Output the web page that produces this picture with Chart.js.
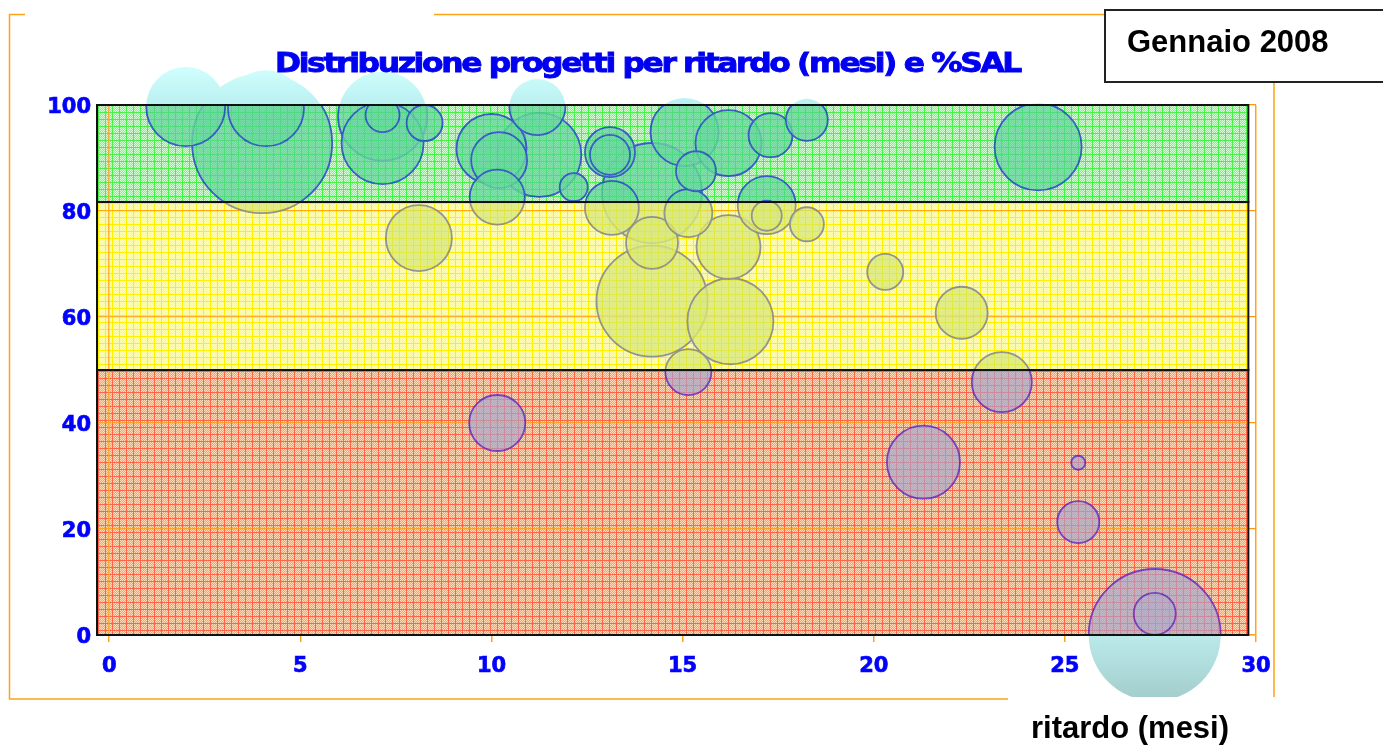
<!DOCTYPE html>
<html>
<head>
<meta charset="utf-8">
<title>Distribuzione progetti per ritardo (mesi) e %SAL</title>
<script src="https://cdn.jsdelivr.net/npm/chart.js@4/dist/chart.umd.min.js"></script>
<style>
  html, body { margin: 0; padding: 0; background: #fff; }
  canvas { display: block; }
</style>
</head>
<body>
<canvas id="myChart" width="1383" height="745"></canvas>
<script>
// ritardo (mesi) e % SAL di ogni progetto, raggio della bolla in px
const ritardo = [2.0, 4.1, 4.0, 7.15, 7.15, 7.15, 8.25, 8.1, 10.0, 10.2, 10.15, 11.2, 11.25, 12.15,
                 13.1, 13.1, 13.15, 14.2, 15.05, 15.35, 15.15, 16.2, 17.3, 18.25, 17.2, 17.2, 18.25,
                 14.2, 16.2, 14.2, 16.25, 15.15, 10.15, 20.3, 22.3, 23.35, 21.3, 25.35, 25.35, 27.35,
                 27.35, 24.3];
const sal = [99.7, 99.4, 92.8, 97.9, 92.8, 98.1, 96.6, 74.9, 91.7, 89.6, 82.6, 99.6, 90.6, 84.5,
             91.1, 90.6, 80.6, 83.4, 94.9, 87.5, 79.6, 92.8, 94.3, 97.2, 81.1, 79.1, 77.5,
             74.0, 73.2, 63.0, 59.2, 49.6, 40.0, 68.5, 60.8, 47.7, 32.6, 32.5, 21.3, 0,
             4.0, 92.1];
const bubbleRadius = [39.5, 38, 70, 44.5, 41, 17, 18, 33, 35, 28, 27.5, 28, 42, 14,
                      25, 20, 27, 50, 34, 20, 24, 33, 22, 21, 29, 15, 17,
                      26, 32, 55.5, 43, 23, 28, 18, 26, 30, 36.5, 7, 21, 66,
                      21, 43.5];

const xTicks = [0, 5, 10, 15, 20, 25, 30];
const yTicks = [0, 20, 40, 60, 80, 100];
const bandLimits = [0, 50, 81.7, 100];   // rosso, giallo, verde
const bandEnd = 29.8;

const chartTitle = 'Distribuzione progetti per ritardo (mesi) e %SAL';
const dateLabel = 'Gennaio 2008';
const xTitle = 'ritardo (mesi)';

const orange = '#ffa31a';
const blue = '#0000ff';
const font = '"DejaVu Sans", Verdana, sans-serif';

const ctx = document.getElementById('myChart').getContext('2d');

function makePattern(base, dot, line) {
    let c = document.createElement('canvas');
    c.width = 14;
    c.height = 14;
    let g = c.getContext('2d');
    g.fillStyle = base;
    g.fillRect(0, 0, 14, 14);
    g.fillStyle = dot;
    for (let i = 0; i < 14; i++) {
        for (let j = 0; j < 14; j++) {
            if ((i + j) % 2 === 0) g.fillRect(i, j, 1, 1);
        }
    }
    g.fillStyle = line;
    g.fillRect(0, 0, 14, 1);
    g.fillRect(0, 7, 14, 1);
    g.fillRect(0, 0, 1, 14);
    g.fillRect(7, 0, 1, 14);
    return ctx.createPattern(c, 'repeat');
}

// red, yellow, green
const bandPatterns = [
    makePattern('#fb9e7e', '#ffdab6', '#ff6448'),
    makePattern('#ffff62', '#ffffb4', '#fff000'),
    makePattern('#84f284', '#d4ffd4', '#4cef4c')
];

// colours per zone: above 100, green, yellow, red, below 0
function zoneGradient(chart, colors) {
    let y = chart.scales.y;
    let H = chart.height;
    let p = v => Math.min(1, Math.max(0, y.getPixelForValue(v) / H));
    let g = chart.ctx.createLinearGradient(0, 0, 0, H);
    let top = p(bandLimits[3]), gy = p(bandLimits[2]), yr = p(bandLimits[1]), bot = p(bandLimits[0]);
    g.addColorStop(0, colors[0][0]);
    g.addColorStop(Math.max(0, top - 40 / H), colors[0][0]);
    g.addColorStop(top, colors[0][1]);
    g.addColorStop(top, colors[1]);
    g.addColorStop(gy, colors[1]);
    g.addColorStop(gy, colors[2]);
    g.addColorStop(yr, colors[2]);
    g.addColorStop(yr, colors[3]);
    g.addColorStop(bot, colors[3]);
    g.addColorStop(bot, colors[4][0]);
    g.addColorStop(Math.min(1, bot + 62 / H), colors[4][1]);
    g.addColorStop(1, colors[4][1]);
    return g;
}

let fillCache = null, strokeCache = null;
function bubbleFill(c) {
    if (!c.chart.chartArea) return '#c8fafa';
    if (!fillCache) {
        fillCache = zoneGradient(c.chart, [
            ['rgb(210,255,255)', 'rgb(186,240,240)'],
            'rgba(84,209,152,0.8)',
            'rgba(208,228,112,0.8)',
            'rgba(163,166,212,0.8)',
            ['rgb(186,234,234)', 'rgb(165,206,206)']
        ]);
    }
    return fillCache;
}
function bubbleStroke(c) {
    if (!c.chart.chartArea) return '#1838c8';
    if (!strokeCache) {
        strokeCache = zoneGradient(c.chart, [
            ['rgba(0,0,0,0)', 'rgba(0,0,0,0)'],
            '#1838c8',
            '#78788a',
            '#5820c4',
            ['rgba(0,0,0,0)', 'rgba(0,0,0,0)']
        ]);
    }
    return strokeCache;
}

function bandRects(chart) {
    let x = chart.scales.x, y = chart.scales.y;
    let left = chart.chartArea.left, right = x.getPixelForValue(bandEnd);
    let rects = [];
    for (let i = 0; i < 3; i++) {
        let top = y.getPixelForValue(bandLimits[i + 1]);
        let bottom = y.getPixelForValue(bandLimits[i]);
        rects.push([left, top, right - left, bottom - top]);
    }
    return rects;
}

const bandsPlugin = {
    id: 'bands',
    beforeDraw(chart) {
        let c = chart.ctx;
        c.save();
        bandRects(chart).forEach((r, i) => {
            c.fillStyle = bandPatterns[i];
            c.fillRect(r[0], r[1], r[2], r[3]);
        });
        c.restore();
    },
    afterDatasetsDraw(chart) {
        let c = chart.ctx;
        c.save();
        // texture showing through the bubbles
        c.globalAlpha = 0.22;
        bandRects(chart).forEach((r, i) => {
            c.fillStyle = bandPatterns[i];
            c.fillRect(r[0], r[1], r[2], r[3]);
        });
        c.globalAlpha = 1;
        c.strokeStyle = '#111';
        c.lineWidth = 2;
        bandRects(chart).forEach(r => c.strokeRect(r[0], r[1], r[2], r[3]));
        c.restore();
    },
    afterDraw(chart) {
        let c = chart.ctx;
        c.save();
        // outer frame
        c.strokeStyle = orange;
        c.lineWidth = 1.5;
        c.beginPath();
        c.moveTo(25, 14.5); c.lineTo(9.5, 14.5); c.lineTo(9.5, 699); c.lineTo(1008, 699);
        c.moveTo(434, 14.5); c.lineTo(1105, 14.5);
        c.moveTo(1274, 82); c.lineTo(1274, 697);
        c.stroke();

        // title
        c.font = 'bold 27px ' + font;
        c.fillStyle = '#0000f0';
        c.strokeStyle = '#0000f0';
        c.lineWidth = 0.9;
        c.textBaseline = 'alphabetic';
        c.textAlign = 'left';
        c.letterSpacing = '-2px';
        let w = c.measureText(chartTitle).width;
        c.save();
        c.translate(275, 72);
        c.scale(745 / w, 1);
        c.fillText(chartTitle, 0, 0);
        c.strokeText(chartTitle, 0, 0);
        c.restore();
        c.letterSpacing = '0px';

        // date box
        c.fillStyle = '#fff';
        c.fillRect(1105, 10, 290, 72);
        c.strokeStyle = '#222';
        c.lineWidth = 2;
        c.strokeRect(1105, 10, 290, 72);
        c.fillStyle = '#000';
        c.font = 'bold 31px "Liberation Sans", Arial, sans-serif';
        c.fillText(dateLabel, 1127, 52);

        // axis title
        c.textAlign = 'center';
        c.fillText(xTitle, 1130, 738);
        c.restore();
    }
};

const points = ritardo.map((x, i) => ({ x: x, y: sal[i], r: bubbleRadius[i] }))
    .sort((a, b) => b.r - a.r);

let chart = new Chart(ctx, {
    type: 'bubble',
    data: {
        datasets: [{
            label: 'progetti',
            data: points,
            backgroundColor: bubbleFill,
            borderColor: bubbleStroke,
            borderWidth: 1.8,
            clip: { left: false, top: false, right: false, bottom: 62 }
        }]
    },
    options: {
        responsive: false,
        animation: false,
        events: [],
        layout: { padding: { left: 0, top: 105, right: 127, bottom: 0 } },
        plugins: {
            legend: { display: false },
            tooltip: { enabled: false }
        },
        scales: {
            x: {
                type: 'linear',
                min: -0.32,
                max: 30,
                afterBuildTicks: s => { s.ticks = xTicks.map(v => ({ value: v })); },
                afterFit: s => { s.height = 110; },
                grid: {
                    color: c => (c.tick && (c.tick.value === 0 || c.tick.value === 30)) ? orange : 'rgba(0,0,0,0)',
                    lineWidth: 1.5,
                    tickColor: orange,
                    tickLength: 7
                },
                border: { color: orange, width: 1.5 },
                ticks: {
                    color: blue,
                    font: { family: font, size: 21, weight: 'bold' },
                    textStrokeColor: blue,
                    textStrokeWidth: 0.7,
                    padding: 12,
                    maxRotation: 0,
                    autoSkip: false
                }
            },
            y: {
                min: 0,
                max: 100,
                afterBuildTicks: s => { s.ticks = yTicks.map(v => ({ value: v })); },
                afterFit: s => { s.width = 97; },
                grid: { color: '#ff9a10', lineWidth: 1.2, drawTicks: false },
                border: { display: false },
                ticks: {
                    color: blue,
                    font: { family: font, size: 21, weight: 'bold' },
                    textStrokeColor: blue,
                    textStrokeWidth: 0.7,
                    padding: 6,
                    labelOffset: 3
                }
            }
        }
    },
    plugins: [bandsPlugin]
});
</script>
</body>
</html>
